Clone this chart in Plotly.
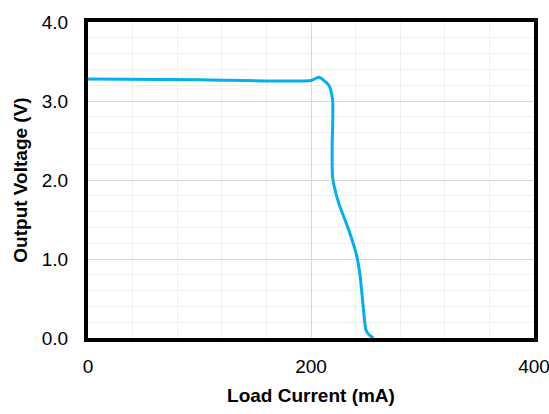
import plotly.graph_objects as go

current_ma = [0, 100, 200, 207, 216, 219.4, 219.5, 219, 219.4, 224.8, 233.8, 241, 244, 247, 249.3, 252, 256]
voltage_v = [3.28, 3.27, 3.26, 3.30, 3.20, 3.01, 2.75, 2.45, 2.03, 1.71, 1.37, 1.04, 0.79, 0.37, 0.10, 0.04, 0.0]

x_ticks = [0, 200, 400]
y_ticks = [0, 1, 2, 3, 4]
y_tick_labels = ["0.0", "1.0", "2.0", "3.0", "4.0"]

fig = go.Figure()
fig.add_trace(go.Scatter(x=current_ma, y=voltage_v, mode="lines",
                         line=dict(color="#00B0F0", width=3, shape="spline", smoothing=0.6),
                         showlegend=False, hoverinfo="skip"))

font_family = "Liberation Sans, Arial, sans-serif"
fig.update_layout(
    width=549, height=414,
    margin=dict(l=88, r=15, t=22, b=76),
    paper_bgcolor="white", plot_bgcolor="white",
    font=dict(family=font_family, size=19, color="black"),
)
fig.update_xaxes(
    range=[0, 400], tickvals=x_ticks, ticks="", automargin=False,
    showline=True, mirror=True, linecolor="black", linewidth=4,
    showgrid=True, gridcolor="#D9D9D9", gridwidth=1,
    minor=dict(dtick=40, showgrid=True, gridcolor="#EFEFEF", gridwidth=1),
    zeroline=False, ticklabelstandoff=8, ticklabeloverflow="allow",
    title=dict(text="<b>Load Current (mA)</b>", font=dict(size=19), standoff=14),
    tickfont=dict(size=19),
)
fig.update_yaxes(
    range=[0, 4], tickvals=y_ticks, ticktext=y_tick_labels, ticks="", automargin=False,
    showline=True, mirror=True, linecolor="black", linewidth=4,
    showgrid=True, gridcolor="#D9D9D9", gridwidth=1,
    minor=dict(dtick=0.2, showgrid=True, gridcolor="#EFEFEF", gridwidth=1),
    zeroline=False, ticklabelstandoff=12, ticklabeloverflow="allow",
    title=dict(text="<b>Output Voltage (V)</b>", font=dict(size=19), standoff=10),
    tickfont=dict(size=19),
)
fig.write_html("out.html")
